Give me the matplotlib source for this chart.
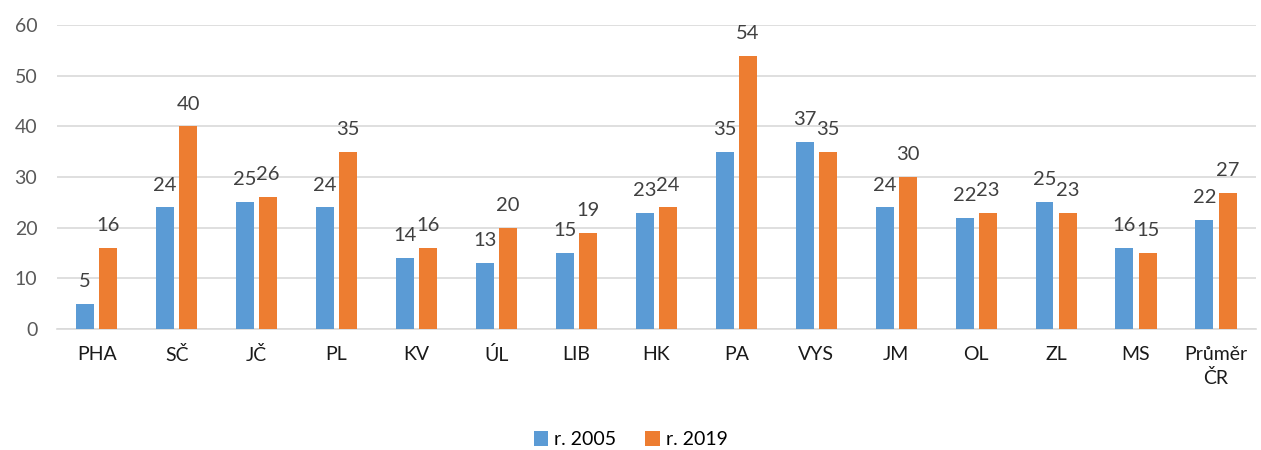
import numpy as np
import matplotlib.pyplot as plt

# data
regions = ['PHA', 'SČ', 'JČ', 'PL', 'KV', 'ÚL', 'LIB', 'HK', 'PA', 'VYS', 'JM', 'OL', 'ZL', 'MS', 'Průměr\nČR']
r2005 = [5, 24, 25, 24, 14, 13, 15, 23, 35, 37, 24, 22, 25, 16, 21.6]
r2019 = [16, 40, 26, 35, 16, 20, 19, 24, 54, 35, 30, 23, 23, 15, 26.8]

plt.rcParams['font.family'] = ['Lato', 'DejaVu Sans']

fig = plt.figure(figsize=(12.61, 4.5), dpi=100)
ax = fig.add_axes([0.045, 0.269, 0.951, 0.675])

x = np.arange(len(regions))
w = 0.225
blue = '#5b9bd5'
orange = '#ed7d31'
b1 = ax.bar(x - 0.145, r2005, w, color=blue, label='r. 2005', zorder=3)
b2 = ax.bar(x + 0.145, r2019, w, color=orange, label='r. 2019', zorder=3)

# value labels
for bars, vals in ((b1, r2005), (b2, r2019)):
    for b, v in zip(bars, vals):
        ax.annotate(str(int(round(v))), (b.get_x() + b.get_width() / 2, v),
                    xytext=(0, 10), textcoords='offset points',
                    ha='center', va='bottom', fontsize=14.5, color='#404040')

ax.set_xlim(-0.5, len(regions) - 0.5)
ax.set_ylim(0, 60)
ax.set_yticks(range(0, 61, 10))
ax.set_xticks(x)
ax.set_xticklabels(regions, fontsize=14, color='#1a1a1a', linespacing=1.45)
ax.tick_params(axis='y', length=0, labelsize=14, labelcolor='#595959', pad=14)
ax.tick_params(axis='x', length=0, pad=12)
ax.grid(axis='y', color='#d9d9d9', linewidth=1.2, zorder=0)
for s in ['top', 'right', 'left']:
    ax.spines[s].set_visible(False)
ax.spines['bottom'].set_color('#d9d9d9')
ax.spines['bottom'].set_linewidth(1.2)

fig.legend(loc='lower center', ncol=2, frameon=False, fontsize=14,
           bbox_to_anchor=(0.5, -0.035), handlelength=0.75, handleheight=0.75,
           handletextpad=0.3, columnspacing=1.5)

fig.savefig('out.png', dpi=100)
